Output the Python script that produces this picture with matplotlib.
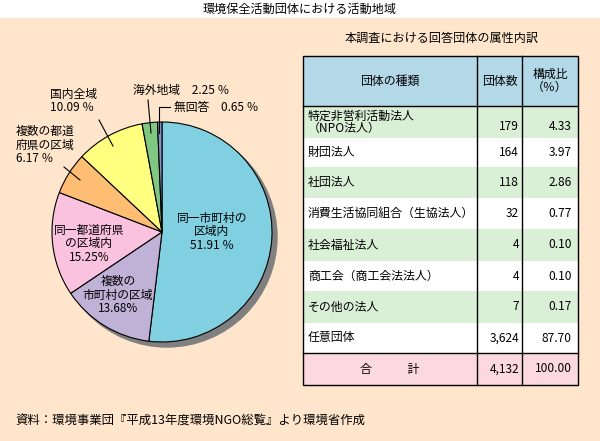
import matplotlib.pyplot as plt
from matplotlib.patches import Rectangle, Circle

plt.rcParams['font.family'] = ['Noto Sans CJK JP', 'DejaVu Sans']

# pie data
regions = ['同一市町村の区域内', '複数の市町村の区域', '同一都道府県の区域内',
           '複数の都道府県の区域', '国内全域', '海外地域', '無回答']
shares = [51.91, 13.68, 15.25, 6.17, 10.09, 2.25, 0.65]
colors = ['#80D0E2', '#BFB2D6', '#FBC2E0', '#FDBE74', '#FFFF80', '#80C882', '#8494C4']

# table data
types = ['特定非営利活動法人\n（NPO法人）', '財団法人', '社団法人', '消費生活協同組合（生協法人）',
         '社会福祉法人', '商工会（商工会法法人）', 'その他の法人', '任意団体']
counts = ['179', '164', '118', '32', '4', '4', '7', '3,624']
ratios = ['4.33', '3.97', '2.86', '0.77', '0.10', '0.10', '0.17', '87.70']
total_count = '4,132'
total_ratio = '100.00'

W, H = 600, 441
fig = plt.figure(figsize=(6, 4.41), dpi=100)
ax = fig.add_axes([0, 0, 1, 1])

def Y(y):
    return H - y

bg = '#FFE5CC'
ax.add_patch(Rectangle((0, 0), W, Y(18), color=bg, zorder=0))

ax.text(300, Y(9), '環境保全活動団体における活動地域', ha='center', va='center', fontsize=8.7)

# pie
cx, cy, r = 162, Y(232), 110
ax.add_patch(Circle((cx + 5, cy - 5), r, color='#808080', zorder=1))
wedges, _ = ax.pie(shares, colors=colors, startangle=90, counterclock=False,
                   center=(cx, cy), radius=r, frame=True,
                   wedgeprops=dict(edgecolor='black', linewidth=0.8))
for w in wedges:
    w.set_zorder(2)
ax.set_xlim(0, W)
ax.set_ylim(0, H)
ax.set_aspect('equal')
ax.axis('off')

fs = 8.5
ls = 1.05
ax.text(212, Y(232), '同一市町村の\n区域内\n51.91 ％', ha='center', va='center', fontsize=fs, linespacing=ls, zorder=3)
ax.text(118, Y(295), '複数の\n市町村の区域\n13.68%', ha='center', va='center', fontsize=fs, linespacing=ls, zorder=3)
ax.text(89, Y(244), '同一都道府県\nの区域内\n15.25%', ha='center', va='center', fontsize=fs, linespacing=ls, zorder=3)
ax.text(16, Y(145), '複数の都道\n府県の区域\n6.17 ％', ha='left', va='center', fontsize=fs, linespacing=ls, zorder=3)
ax.text(50, Y(101), '国内全域\n10.09 ％', ha='left', va='center', fontsize=fs, linespacing=ls, zorder=3)
ax.text(133, Y(90), '海外地域　2.25 ％', ha='left', va='center', fontsize=fs, zorder=3)
ax.text(174, Y(108), '無回答　0.65 ％', ha='left', va='center', fontsize=fs, zorder=3)
ax.plot([99, 113], [Y(120), Y(146)], color='black', lw=0.8, zorder=3)
ax.plot([64, 80], [Y(167), Y(180)], color='black', lw=0.8, zorder=3)
ax.plot([148, 151], [Y(100), Y(133)], color='black', lw=0.8, zorder=3)
ax.plot([170, 159, 159], [Y(107), Y(107), Y(133)], color='black', lw=0.8, zorder=3)

# table
ax.text(442, Y(38), '本調査における回答団体の属性内訳', ha='center', va='center', fontsize=8.7)
x0, x1, x2, x3 = 303, 477, 522, 578
top, hdr = 56, 106
row_edges = [106, 138, 167, 198, 229, 261, 291, 323, 353]
ax.add_patch(Rectangle((x0, Y(hdr)), x3 - x0, hdr - top, facecolor='#B3D8E8', edgecolor='none', zorder=1))
tfs = 8.6
ax.text((x0 + x1) / 2, Y((top + hdr) / 2), '団体の種類', ha='center', va='center', fontsize=tfs, zorder=3)
ax.text((x1 + x2) / 2, Y((top + hdr) / 2), '団体数', ha='center', va='center', fontsize=tfs, zorder=3)
ax.text((x2 + x3) / 2, Y((top + hdr) / 2), '構成比\n（％）', ha='center', va='center', fontsize=tfs, linespacing=1.0, zorder=3)
for i, (t, c, p) in enumerate(zip(types, counts, ratios)):
    ya, yb = row_edges[i], row_edges[i + 1]
    fc = '#DAF0D6' if i % 2 == 0 else 'white'
    ax.add_patch(Rectangle((x0, Y(yb)), x3 - x0, yb - ya, facecolor=fc, edgecolor='none', zorder=1))
    ym = Y((ya + yb) / 2)
    ax.text(x0 + 5, ym, t, ha='left', va='center', fontsize=tfs, linespacing=0.92, zorder=3)
    ax.text(x2 - 3, ym - (5 if '\n' in t else 0), c, ha='right', va='center', fontsize=tfs, zorder=3)
    ax.text(x3 - 6, ym - (5 if '\n' in t else 0), p, ha='right', va='center', fontsize=tfs, zorder=3)
ya, yb = 353, 385
ax.add_patch(Rectangle((x0, Y(yb)), x3 - x0, yb - ya, facecolor='#FCD9E0', edgecolor='none', zorder=1))
ym = Y((ya + yb) / 2)
ax.text(390, ym, '合　　　計', ha='center', va='center', fontsize=tfs, zorder=3)
ax.text(x2 - 3, ym, total_count, ha='right', va='center', fontsize=tfs, zorder=3)
ax.text(x3 - 6, ym, total_ratio, ha='right', va='center', fontsize=tfs, zorder=3)
# borders
ax.add_patch(Rectangle((x0, Y(385)), x3 - x0, 385 - top, facecolor='none', edgecolor='black', lw=1.0, zorder=4))
ax.plot([x1, x1], [Y(top), Y(385)], color='black', lw=1.0, zorder=4)
ax.plot([x2, x2], [Y(top), Y(385)], color='black', lw=1.0, zorder=4)
ax.plot([x0, x3], [Y(hdr), Y(hdr)], color='black', lw=1.0, zorder=4)
ax.plot([x0, x3], [Y(353), Y(353)], color='black', lw=1.0, zorder=4)

ax.text(15, Y(421), '資料：環境事業団『平成13年度環境NGO総覧』より環境省作成', ha='left', va='center', fontsize=8.9, zorder=3)

fig.savefig('out.png', dpi=100, facecolor='white')
